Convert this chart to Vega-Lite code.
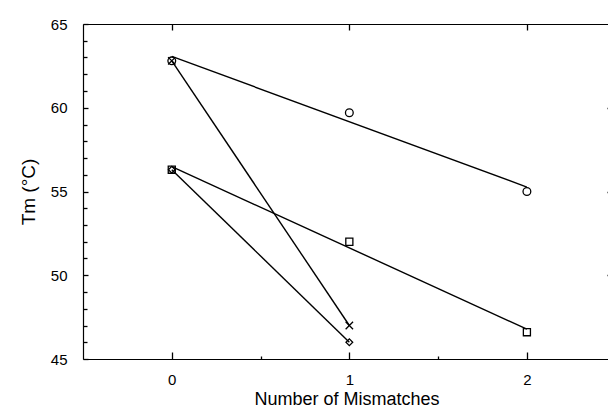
{
  "$schema": "https://vega.github.io/schema/vega-lite/v6.json",
  "width": 527,
  "height": 335,
  "autosize": "none",
  "padding": {"left": 83, "top": 24, "right": 0, "bottom": 51},
  "config": {
    "view": {"stroke": null},
    "font": "Liberation Sans",
    "axis": {"domainColor": "black", "tickColor": "black", "labelColor": "black", "titleColor": "black", "grid": false, "domainWidth": 1.2, "tickWidth": 1.3}
  },
  "data": {
    "values": [
      {"series": "A", "mm": 0, "tm": 62.8},
      {"series": "A", "mm": 1, "tm": 59.7},
      {"series": "A", "mm": 2, "tm": 55.0},
      {"series": "B", "mm": 0, "tm": 62.8},
      {"series": "B", "mm": 1, "tm": 47.0},
      {"series": "C", "mm": 0, "tm": 56.3},
      {"series": "C", "mm": 1, "tm": 52.0},
      {"series": "C", "mm": 2, "tm": 46.6},
      {"series": "D", "mm": 0, "tm": 56.3},
      {"series": "D", "mm": 1, "tm": 46.0}
    ]
  },
  "layer": [
    {
      "mark": {"type": "line", "color": "black", "strokeWidth": 1.4},
      "transform": [{"regression": "tm", "on": "mm", "groupby": ["series"]}],
      "encoding": {
        "x": {
          "field": "mm", "type": "quantitative",
          "scale": {"domain": [-0.5, 2.468], "nice": false, "zero": false},
          "axis": {
            "orient": "bottom", "values": [0, 1, 2], "format": "d",
            "tickSize": -7,
            "labelPadding": 20, "labelFontSize": 15, "labelFlush": false,
            "title": "Number of Mismatches", "titleFontSize": 18, "titleFontWeight": "normal", "titlePadding": 3
          }
        },
        "y": {
          "field": "tm", "type": "quantitative",
          "scale": {"domain": [45, 65], "nice": false, "zero": false},
          "axis": {
            "orient": "left", "values": [45, 50, 55, 60, 65],
            "tickSize": -5,
            "labelPadding": 21, "labelFontSize": 15, "labelFlush": false,
            "title": "Tm (°C)", "titleFontSize": 19, "titleFontWeight": "normal", "titlePadding": 12
          }
        },
        "detail": {"field": "series"}
      }
    },
    {
      "mark": {"type": "point", "color": "black", "filled": false, "opacity": 1, "strokeWidth": 1.3},
      "encoding": {
        "x": {
          "field": "mm", "type": "quantitative",
          "axis": {"orient": "top", "values": [0, 1, 2], "labels": false, "tickSize": -6, "title": null}
        },
        "y": {
          "field": "tm", "type": "quantitative",
          "axis": {"orient": "right", "values": [50, 55, 60], "labels": false, "tickSize": -3, "title": null}
        },
        "shape": {
          "field": "series", "type": "nominal",
          "scale": {"domain": ["A", "B", "C", "D"], "range": ["circle", "M-1,-1L1,1M-1,1L1,-1", "square", "diamond"]},
          "legend": null
        },
        "size": {
          "field": "series", "type": "nominal",
          "scale": {"domain": ["A", "B", "C", "D"], "range": [60, 45, 70, 40]},
          "legend": null
        }
      }
    },
    {
      "mark": {"type": "point", "opacity": 0},
      "encoding": {
        "x": {
          "field": "mm", "type": "quantitative",
          "axis": {"orient": "bottom", "values": [0.5, 1.5], "labels": false, "domain": false, "tickSize": -3, "title": null}
        },
        "y": {
          "field": "tm", "type": "quantitative",
          "axis": {"orient": "left", "values": [46,47,48,49,51,52,53,54,56,57,58,59,61,62,63,64], "labels": false, "domain": false, "tickSize": -4, "title": null}
        }
      }
    }
  ],
  "resolve": {"axis": {"x": "independent", "y": "independent"}}
}
